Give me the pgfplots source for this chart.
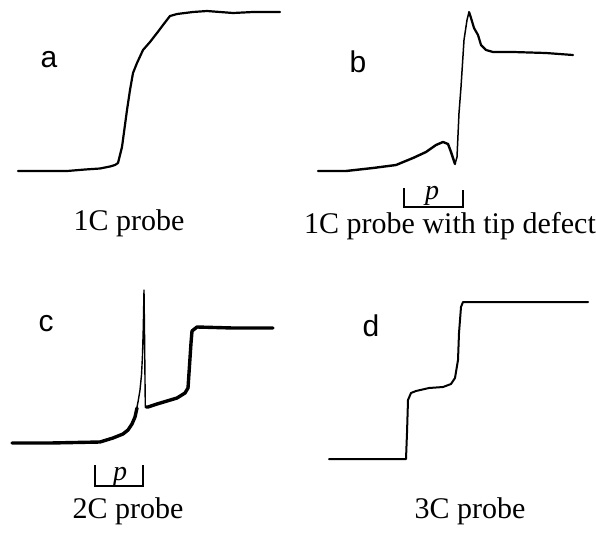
\documentclass[border=0pt]{standalone}
\usepackage{pgfplots}
\pgfplotsset{compat=1.18}
\usepackage{fontspec}
\setmainfont{Liberation Serif}
\newfontfamily\panelfont{Liberation Sans}

% Probe response traces, four panels on one shared page-unit frame
\begin{document}
\begin{tikzpicture}
\useasboundingbox (0,0) rectangle (596pt,533pt);
\begin{axis}[
  at={(0,0)}, anchor=south west,
  scale only axis, width=596pt, height=533pt,
  xmin=0, xmax=596, ymin=0, ymax=533, y dir=reverse,
  hide axis, clip=false,
  every axis plot/.append style={black, line join=round, line cap=round, mark=none},
]
% (a) single-conductor probe
\addplot[line width=2.2pt] coordinates {
 (18,171) (45,171) (67,171) (85,169.5) (100,168.5) (110,166.5) (115,165) (118,163)
 (122,147) (127,110) (130,90) (133,73) (137,63) (143,50) (150,42) (157,33)
 (163,25) (170,16) (177,14) (193,12) (207,11) (220,12) (233,13) (253,12) (280,12)};

% (b) single-conductor probe with tip defect
\addplot[line width=2.4pt] coordinates {
 (318,171) (346,171) (373,168) (396,165) (413,158) (426,152) (436,145) (443,142)
 (448,144) (451,152) (455,164)};
\addplot[line width=1.5pt] coordinates {
 (455,164) (457,157) (459,113) (461,87) (464,40) (467,20) (469,12)};
\addplot[line width=2.2pt] coordinates {
 (469,12) (471,18) (474,28) (478,35) (481,45) (486,50) (493,52) (513,52)
 (546,53) (573,55)};

% (c) two-conductor probe
\addplot[line width=3.4pt] coordinates {
 (12,443) (50,443) (100,442) (113,438) (123,434) (128,430) (132,424) (135,417) (137,408)};
\addplot[line width=1.4pt] coordinates {
 (136,412) (138,402) (140,390) (141.5,375) (142.5,355) (143.3,327) (144,290)
 (144.5,330) (145,380) (145.3,406)};
\addplot[line width=3.4pt] coordinates {
 (146,407) (148,407) (157,404) (167,401) (177,398) (185,393) (188,388) (189,373)
 (191,343) (192,331) (197,327) (233,328) (273,328)};

% (d) three-conductor probe
\addplot[line width=2.0pt] coordinates {
 (329,459) (406,459) (407,433) (408,400) (411,393) (416,391) (429,388) (443,387)
 (451,384) (455,378) (458,360) (459,333) (461,307) (463,302) (476,302) (529,302)
 (588,302)};

% pulse-width brackets
\draw[line width=1.8pt] (axis cs:404,188) -- (axis cs:404,207) -- (axis cs:463,207) -- (axis cs:463,190);
\draw[line width=1.8pt] (axis cs:95,465) -- (axis cs:95,486) -- (axis cs:143,486) -- (axis cs:143,465);
\node[anchor=base, inner sep=0pt] at (axis cs:432,199) {\fontsize{28}{32}\selectfont\textit{p}};
\node[anchor=base, inner sep=0pt] at (axis cs:120,480) {\fontsize{28}{32}\selectfont\textit{p}};

% panel letters
\node[anchor=base, inner sep=0pt] at (axis cs:49,67)  {\fontsize{30}{35}\selectfont\panelfont a};
\node[anchor=base, inner sep=0pt] at (axis cs:358,72) {\fontsize{30}{35}\selectfont\panelfont b};
\node[anchor=base, inner sep=0pt] at (axis cs:46,331) {\fontsize{30}{35}\selectfont\panelfont c};
\node[anchor=base, inner sep=0pt] at (axis cs:371,336) {\fontsize{30}{35}\selectfont\panelfont d};

% captions
\node[anchor=base, inner sep=0pt] at (axis cs:129,230) {\fontsize{30}{35}\selectfont 1C probe};
\node[anchor=base, inner sep=0pt] at (axis cs:450,233) {\fontsize{30}{35}\selectfont 1C probe with tip defect};
\node[anchor=base, inner sep=0pt] at (axis cs:128,518) {\fontsize{30}{35}\selectfont 2C probe};
\node[anchor=base, inner sep=0pt] at (axis cs:470,518) {\fontsize{30}{35}\selectfont 3C probe};
\end{axis}
\end{tikzpicture}
\end{document}
